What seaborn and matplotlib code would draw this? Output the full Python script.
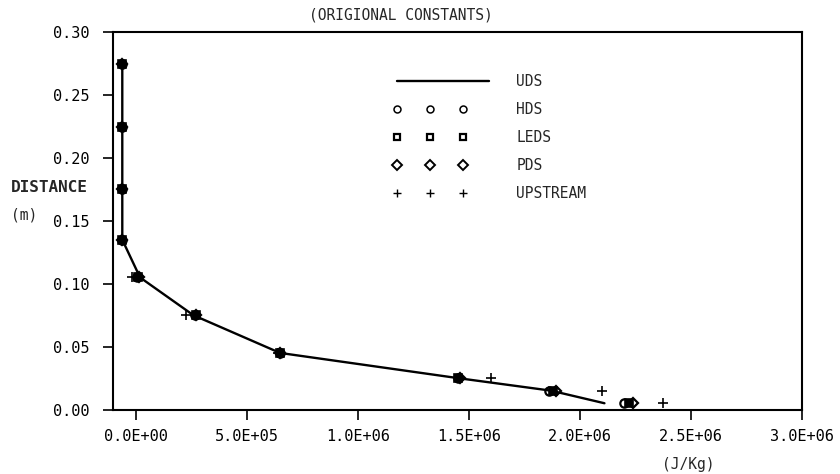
import numpy as np
import pandas as pd
import matplotlib
matplotlib.use("Agg")
import matplotlib.pyplot as plt
from matplotlib.lines import Line2D
from matplotlib.legend_handler import HandlerLine2D
from matplotlib.ticker import FuncFormatter, MultipleLocator
import seaborn as sns

# data: distance (m) vs energy (J/Kg)
distance = [0.275, 0.225, 0.175, 0.135, 0.105, 0.075, 0.045, 0.025, 0.015, 0.005]
uds = [-6e4, -6e4, -6e4, -6e4, 2.0e4, 2.6e5, 6.5e5, 1.45e6, 1.87e6, 2.11e6]
hds = [-6e4, -6e4, -6e4, -6e4, 5e3, 2.65e5, 6.5e5, 1.45e6, 1.86e6, 2.20e6]
leds = [-6e4, -6e4, -6e4, -6e4, 1e4, 2.7e5, 6.5e5, 1.45e6, 1.88e6, 2.22e6]
pds = [-6e4, -6e4, -6e4, -6e4, 1.5e4, 2.7e5, 6.5e5, 1.46e6, 1.89e6, 2.24e6]
upstream = [-6e4, -6e4, -6e4, -6e4, -1.5e4, 2.25e5, 6.4e5, 1.60e6, 2.10e6, 2.375e6]

xticks = [0, 5e5, 1e6, 1.5e6, 2e6, 2.5e6, 3e6]


class CompactHandler(HandlerLine2D):
    # squeeze the three legend markers towards the left of the handle
    def get_xdata(self, legend, xdescent, ydescent, width, height, fontsize):
        xdata, xm = super().get_xdata(legend, xdescent, ydescent, width, height, fontsize)
        xdata = xdata[0] + (xdata - xdata[0]) * 0.72
        return xdata, xdata


sns.set_style("ticks")
plt.rcParams['font.family'] = ['DejaVu Sans Mono', 'DejaVu Sans']

fig = plt.figure(figsize=(8.4, 4.74), dpi=100)
ax = fig.add_axes([0.135, 0.136, 0.82, 0.796])

# UDS solid line
sns.lineplot(x=uds, y=distance, sort=False, estimator=None, color='black',
             linewidth=1.7, ax=ax)

## marker series
mk = dict(linestyle='', color='black', estimator=None, sort=False, ax=ax)
sns.lineplot(x=hds, y=distance, marker='o', markersize=6, mfc='none', mec='black', mew=1.6, **mk)
sns.lineplot(x=leds, y=distance, marker='s', markersize=6, mfc='black', mec='black', mew=1.2, **mk)
sns.lineplot(x=pds, y=distance, marker='D', markersize=5.5, mfc='none', mec='black', mew=1.6, **mk)
sns.lineplot(x=upstream, y=distance, marker='+', markersize=6.5, mec='black', mew=1.2, **mk)

ax.set_xlim(-1e5, 3e6)
ax.set_ylim(0, 0.3)
ax.set_xticks(xticks)
ax.yaxis.set_major_locator(MultipleLocator(0.05))
ax.xaxis.set_major_formatter(FuncFormatter(lambda v, p: f"{v:.1E}"))
ax.yaxis.set_major_formatter(FuncFormatter(lambda v, p: f"{v:.2f}"))
ax.tick_params(axis='both', direction='out', length=7, width=1.2, labelsize=11, colors='black')
ax.tick_params(axis='y', pad=10)
ax.tick_params(axis='x', pad=7)
for s in ax.spines.values():
    s.set_visible(True)
    s.set_linewidth(1.5)
    s.set_color('black')
ax.set_xlabel('')
ax.set_ylabel('')

# legend
handles = [
    Line2D([], [], color='black', linewidth=1.7),
    Line2D([], [], linestyle='', marker='o', markersize=5, mfc='none', mec='black', mew=1.1),
    Line2D([], [], linestyle='', marker='s', markersize=4.5, mfc='none', mec='black', mew=1.6),
    Line2D([], [], linestyle='', marker='D', markersize=5, mfc='none', mec='black', mew=1.4),
    Line2D([], [], linestyle='', marker='+', markersize=6, mec='black', mew=1.0),
]
labels = ['UDS', 'HDS', 'LEDS', 'PDS', 'UPSTREAM']
hmap = {h: CompactHandler() for h in handles[1:]}
ax.legend(handles, labels, loc='upper left', bbox_to_anchor=(0.405, 0.89),
          frameon=False, numpoints=3, handlelength=6.9, handletextpad=1.6,
          labelspacing=0.9, borderpad=0, borderaxespad=0, fontsize=10.5,
          handler_map=hmap)

fig.text(0.477, 0.968, '(ORIGIONAL CONSTANTS)', ha='center', va='center', fontsize=10.5)
fig.text(0.059, 0.605, 'DISTANCE', ha='center', va='center', fontsize=11.5, fontweight='bold')
fig.text(0.029, 0.546, '(m)', ha='center', va='center', fontsize=10.5)
fig.text(0.819, 0.019, '(J/Kg)', ha='center', va='center', fontsize=10.5)

plt.savefig('out.png', dpi=100)
